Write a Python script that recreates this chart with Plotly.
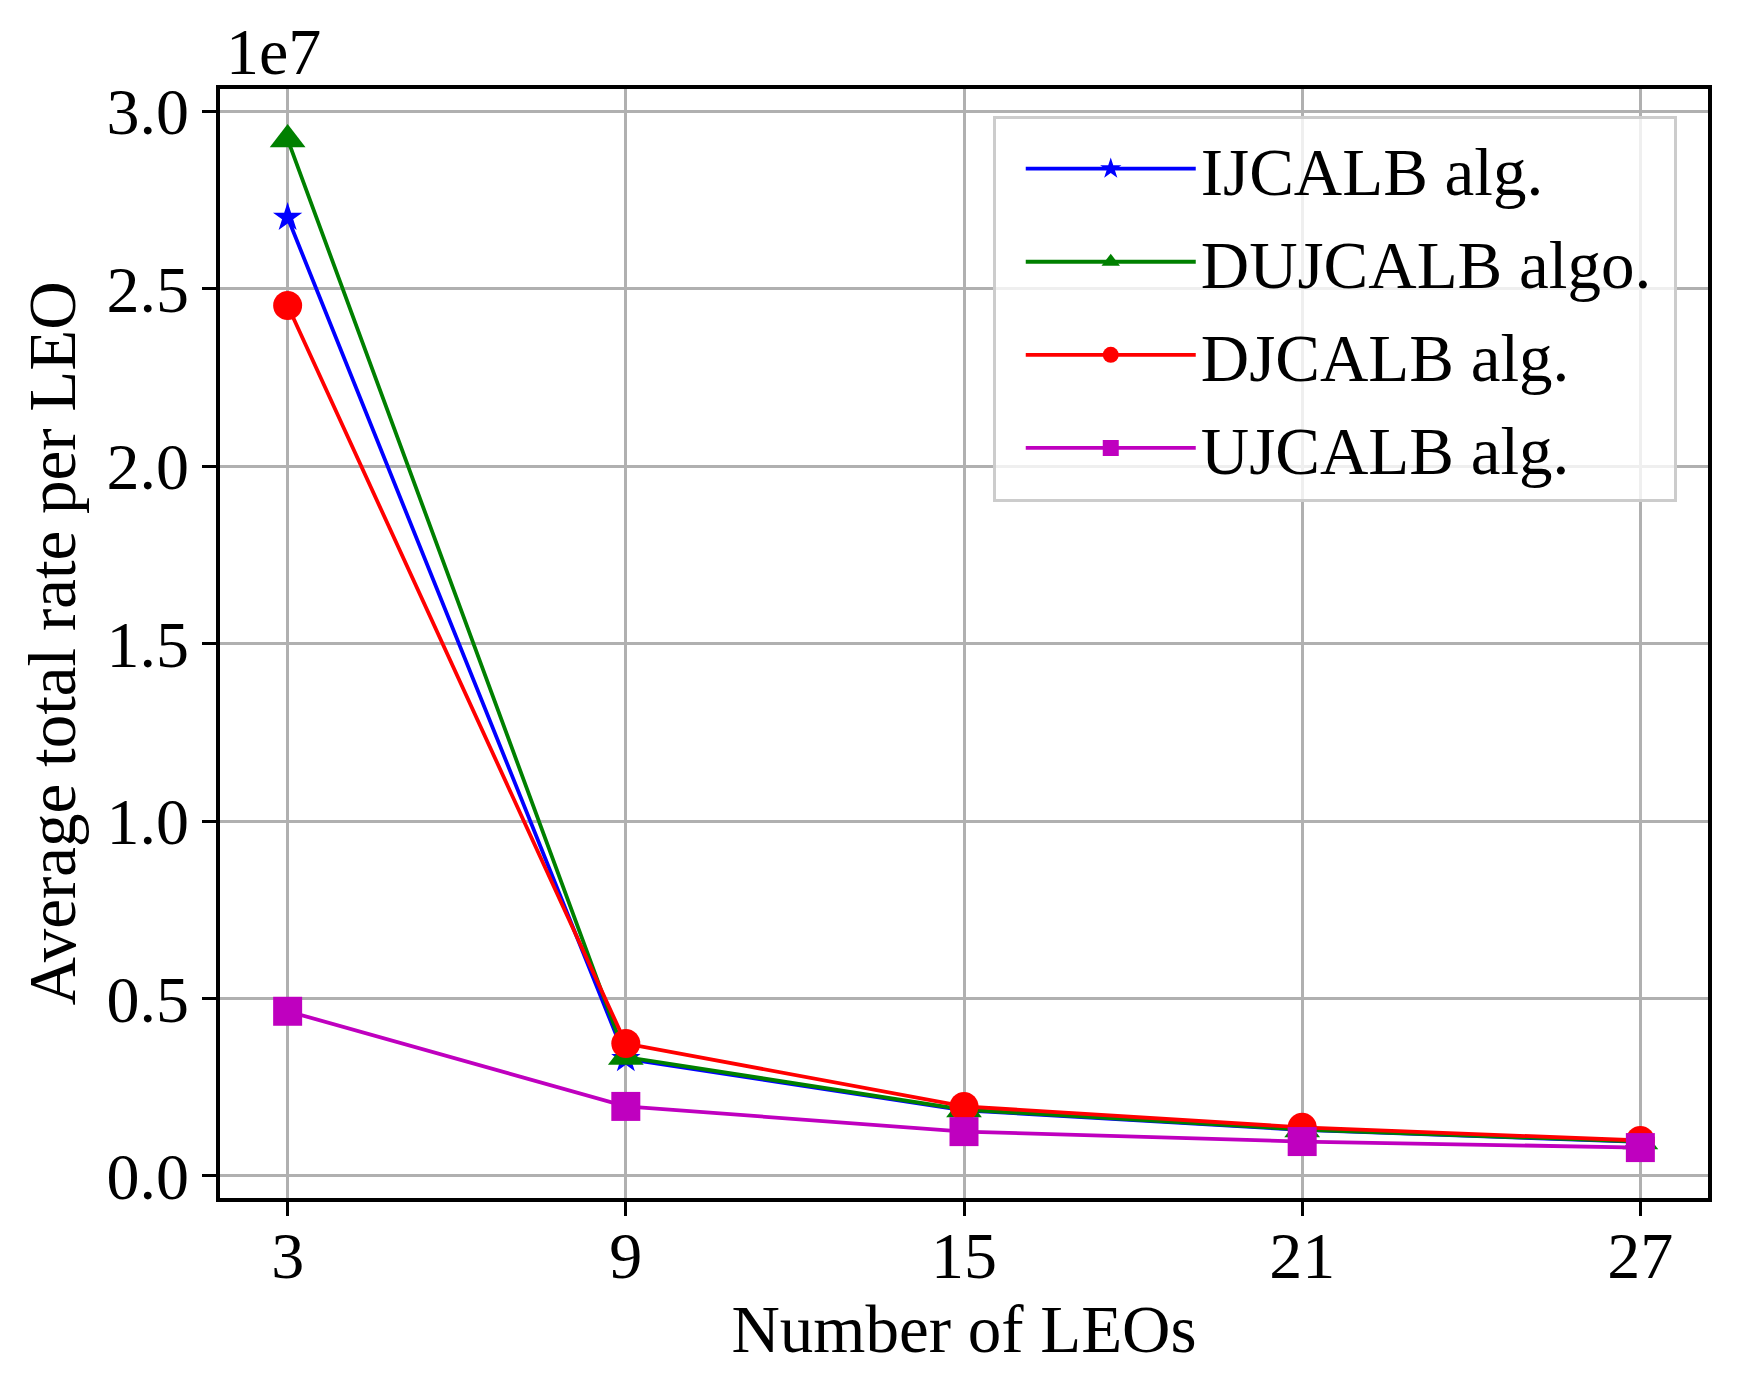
import plotly.graph_objects as go

# number of LEOs
n_leos = [3, 9, 15, 21, 27]

# average total rate per LEO for each algorithm
ijcalb = [2.70e7, 0.330e7, 0.185e7, 0.130e7, 0.096e7]
dujcalb = [2.92e7, 0.335e7, 0.187e7, 0.131e7, 0.097e7]
djcalb = [2.452e7, 0.373e7, 0.196e7, 0.137e7, 0.100e7]
ujcalb = [0.464e7, 0.196e7, 0.125e7, 0.097e7, 0.080e7]

# y ticks (shown in units of 1e7)
y_ticks = [0, 0.5e7, 1.0e7, 1.5e7, 2.0e7, 2.5e7, 3.0e7]
y_tick_text = ["0.0", "0.5", "1.0", "1.5", "2.0", "2.5", "3.0"]

FONT = "Liberation Serif, Times New Roman, serif"
TICK_FS = 66
LABEL_FS = 67
PAD = "\u00a0"  # a bit of room on the right of the legend text

fig = go.Figure()

#one trace per algorithm
fig.add_trace(go.Scatter(x=n_leos, y=ijcalb, mode='lines+markers', name='IJCALB alg.' + PAD, legendgroup='a',
                         line=dict(color='#0000ff', width=3.8),
                         marker=dict(symbol='star', size=22, color='#0000ff')))
fig.add_trace(go.Scatter(x=n_leos, y=dujcalb, mode='lines+markers', name='DUJCALB algo.' + PAD, legendgroup='b',
                         line=dict(color='#008000', width=3.8),
                         marker=dict(symbol='triangle-up', size=31, color='#008000')))
fig.add_trace(go.Scatter(x=n_leos, y=djcalb, mode='lines+markers', name='DJCALB alg.' + PAD, legendgroup='c',
                         line=dict(color='#ff0000', width=3.8),
                         marker=dict(symbol='circle', size=29, color='#ff0000')))
fig.add_trace(go.Scatter(x=n_leos, y=ujcalb, mode='lines+markers', name='UJCALB alg.' + PAD, legendgroup='d',
                         line=dict(color='#bf00bf', width=3.8),
                         marker=dict(symbol='square', size=29, color='#bf00bf')))

# Layout (page body has an 8px margin, so the figure is a little smaller)
fig.update_layout(
    width=1722, height=1380, autosize=False,
    margin=dict(l=212, r=22, t=81, b=190),
    paper_bgcolor='white', plot_bgcolor='white',
    font=dict(family=FONT, size=TICK_FS, color='black'),
    legend=dict(x=0.979, y=0.976, xanchor='right', yanchor='top',
                bgcolor='rgba(255,255,255,0.8)', bordercolor='#cccccc', borderwidth=3,
                font=dict(family=FONT, size=LABEL_FS), itemwidth=170, indentation=25,
                tracegroupgap=3),
    annotations=[dict(text='1e7', xref='paper', yref='paper', x=0.003, y=1.034,
                      xanchor='left', yanchor='middle', height=60, valign='middle',
                      showarrow=False, font=dict(family=FONT, size=TICK_FS))],
)

# X-Axes
fig.update_xaxes(
    range=[1.8, 28.2], tickvals=n_leos, tickfont=dict(family=FONT, size=TICK_FS),
    title=dict(text='Number of LEOs', standoff=10, font=dict(family=FONT, size=LABEL_FS)),
    showgrid=True, gridcolor='#b0b0b0', gridwidth=2.5,
    showline=True, linecolor='black', linewidth=3.5, mirror=True,
    ticks='outside', ticklen=14, tickwidth=3, tickcolor='black',
    ticklabelstandoff=-17,
    zeroline=False, automargin=False)

# Y-Axes
fig.update_yaxes(
    range=[-0.062e7, 3.062e7], tickvals=y_ticks, ticktext=y_tick_text,
    tickfont=dict(family=FONT, size=TICK_FS),
    title=dict(text='Average total rate per LEO', standoff=10, font=dict(family=FONT, size=LABEL_FS)),
    showgrid=True, gridcolor='#b0b0b0', gridwidth=2.5,
    showline=True, linecolor='black', linewidth=3.5, mirror=True,
    ticks='outside', ticklen=14, tickwidth=3, tickcolor='black',
    zeroline=False, automargin=False)

fig.write_html("out.html")
